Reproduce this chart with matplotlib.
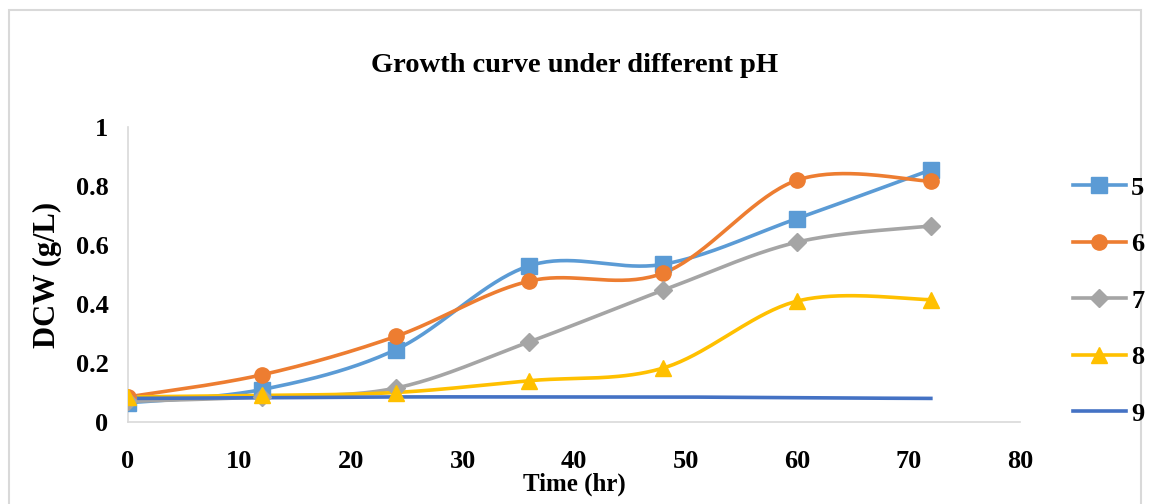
import matplotlib
matplotlib.use('Agg')
import matplotlib.pyplot as plt
from matplotlib.patches import Rectangle
import numpy as np

# Data
hours = [0, 12, 24, 36, 48, 60, 72]
ph5 = [0.065, 0.11, 0.245, 0.53, 0.535, 0.69, 0.855]
ph6 = [0.085, 0.16, 0.29, 0.478, 0.505, 0.82, 0.817]
ph7 = [0.07, 0.085, 0.115, 0.272, 0.447, 0.61, 0.665]
ph8 = [0.085, 0.09, 0.10, 0.14, 0.183, 0.41, 0.415]
ph9 = [0.08, 0.082, 0.085, 0.085, 0.085, 0.082, 0.08]
labels = ['5', '6', '7', '8', '9']

plt.rcParams['font.family'] = ['Liberation Serif', 'DejaVu Serif']
plt.rcParams['font.weight'] = 'bold'


def smooth(x, y, n=40):
    # Excel-style smoothed line: Catmull-Rom through the points
    x = np.asarray(x, float)
    y = np.asarray(y, float)
    px = np.concatenate([[x[0]], x, [x[-1]]])
    py = np.concatenate([[y[0]], y, [y[-1]]])
    xs, ys = [], []
    for i in range(1, len(px) - 2):
        t = np.linspace(0, 1, n)
        p0x, p1x, p2x, p3x = px[i - 1:i + 3]
        p0y, p1y, p2y, p3y = py[i - 1:i + 3]
        c1x, c1y = p1x + (p2x - p0x) / 6, p1y + (p2y - p0y) / 6
        c2x, c2y = p2x - (p3x - p1x) / 6, p2y - (p3y - p1y) / 6
        b = [(1 - t) ** 3, 3 * (1 - t) ** 2 * t, 3 * (1 - t) * t ** 2, t ** 3]
        xs.append(b[0] * p1x + b[1] * c1x + b[2] * c2x + b[3] * p2x)
        ys.append(b[0] * p1y + b[1] * c1y + b[2] * c2y + b[3] * p2y)
    return np.concatenate(xs), np.concatenate(ys)


fig = plt.figure(figsize=(11.5, 5.04), dpi=100)
ax = fig.add_axes([0.1113, 0.1627, 0.7757, 0.585])

series = [
    (ph5, '#5B9BD5', 's', 11),
    (ph6, '#ED7D31', 'o', 11),
    (ph7, '#A5A5A5', 'D', 9),
    (ph8, '#FFC000', '^', 11),
    (ph9, '#4472C4', None, 0),
]

handles = []
for (vals, color, marker, ms), lab in zip(series, labels):
    sx, sy = smooth(hours, vals)
    ax.plot(sx, sy, color=color, linewidth=2.6, zorder=2)
    if marker:
        ax.plot(hours, vals, linestyle='none', marker=marker, markersize=ms,
                color=color, zorder=3)
    h, = ax.plot([], [], color=color, linewidth=2.6, marker=marker,
                 markersize=ms)
    handles.append(h)

ax.set_xlim(0, 80)
ax.set_ylim(0, 1)
ax.set_xticks(range(0, 81, 10))
ax.set_yticks([0, 0.2, 0.4, 0.6, 0.8, 1])
ax.set_yticklabels(['0', '0.2', '0.4', '0.6', '0.8', '1'])
ax.tick_params(length=0, labelsize=19)
ax.tick_params(axis='x', pad=20)
ax.tick_params(axis='y', pad=14)
for s in ['top', 'right']:
    ax.spines[s].set_visible(False)
for s in ['left', 'bottom']:
    ax.spines[s].set_color('#d9d9d9')
    ax.spines[s].set_linewidth(1.2)

ax.set_xlabel('Time (hr)', fontsize=18, fontweight='bold', labelpad=0)
ax.set_ylabel('DCW (g/L)', fontsize=22, fontweight='bold', labelpad=10)
fig.text(0.5, 0.871, 'Growth curve under different pH', ha='center',
         va='center', fontsize=20.5, fontweight='bold')

fig.legend(handles, labels, loc='center left', bbox_to_anchor=(0.933, 0.403),
           frameon=False, fontsize=19, handlelength=2.0, handletextpad=0.2,
           labelspacing=1.25, borderpad=0, borderaxespad=0)

fig.add_artist(Rectangle((0.008, -0.1), 0.984, 1.08, transform=fig.transFigure,
                         fill=False, edgecolor='#d9d9d9', linewidth=1.5))

fig.savefig('out.png', dpi=100)
